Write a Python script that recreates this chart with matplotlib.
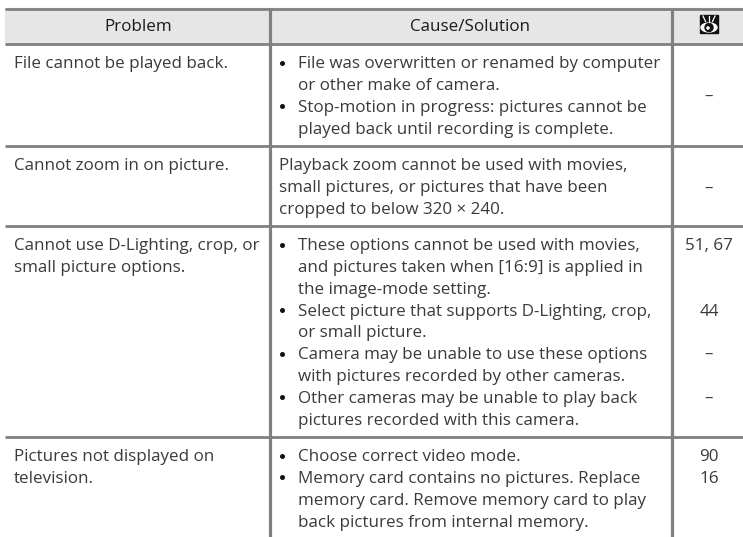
#!/usr/bin/env python3
"""
Troubleshooting table: Problem / Cause-Solution / page reference
"""
import matplotlib
matplotlib.use('Agg')
import matplotlib.pyplot as plt
from matplotlib.patches import Rectangle, Ellipse, Circle

W, H = 743, 537

headers = ['Problem', 'Cause/Solution']

problems = [
    ['File cannot be played back.'],
    ['Cannot zoom in on picture.'],
    ['Cannot use D-Lighting, crop, or', 'small picture options.'],
    ['Pictures not displayed on', 'television.'],
]

# (bullet?, text, page ref) per line of the middle column
row1 = [(True, 'File was overwritten or renamed by computer', ''),
        (False, 'or other make of camera.', ''),
        (True, 'Stop-motion in progress: pictures cannot be', ''),
        (False, 'played back until recording is complete.', '')]
row2 = [(False, 'Playback zoom cannot be used with movies,', ''),
        (False, 'small pictures, or pictures that have been', ''),
        (False, 'cropped to below 320 \u00d7 240.', '')]
row3 = [(True, 'These options cannot be used with movies,', '51, 67'),
        (False, 'and pictures taken when [16:9] is applied in', ''),
        (False, 'the image-mode setting.', ''),
        (True, 'Select picture that supports D-Lighting, crop,', '44'),
        (False, 'or small picture.', ''),
        (True, 'Camera may be unable to use these options', '\u2013'),
        (False, 'with pictures recorded by other cameras.', ''),
        (True, 'Other cameras may be unable to play back', '\u2013'),
        (False, 'pictures recorded with this camera.', '')]
row4 = [(True, 'Choose correct video mode.', '90'),
        (True, 'Memory card contains no pictures. Replace', '16'),
        (False, 'memory card. Remove memory card to play', ''),
        (False, 'back pictures from internal memory.', '')]
rows = [row1, row2, row3, row4]

row_tops = [43.5, 146, 225.5, 436.5]     # y of rule above each row
row_refs_mid = ['\u2013', '\u2013', None, None]  # centred dash for single-ref rows

plt.rcParams['font.family'] = ['Open Sans', 'DejaVu Sans']
FS = 12.25
TEXT = '#3a3a3a'
GREY = '#808080'
LH = 21.85

fig = plt.figure(figsize=(W / 100, H / 100), dpi=100, facecolor='white')
ax = fig.add_axes([0, 0, 1, 1])
ax.set_xlim(0, W)
ax.set_ylim(H, 0)
ax.axis('off')

# header band and rules
ax.add_patch(Rectangle((5, 8), W - 5, 35, color='#e6e6e6', zorder=0))
for y in [8.5] + row_tops:
    ax.plot([5, W], [y, y], color=GREY, lw=2.0, solid_capstyle='butt')
for x in [270, 672]:
    ax.plot([x, x], [7.5, H], color=GREY, lw=2.3, solid_capstyle='butt')

ax.text(138, 31, headers[0], ha='center', va='baseline', fontsize=FS, color='#1a1a1a')
ax.text(470, 31, headers[1], ha='center', va='baseline', fontsize=FS, color='#1a1a1a')

# eye icon in the header
ax.add_patch(Rectangle((700, 15), 18, 18, color='#111111'))
ax.add_patch(Ellipse((709, 27.5), 16, 9, color='white'))
ax.add_patch(Circle((709, 27.5), 4, color='#111111'))
ax.add_patch(Circle((708, 28), 1.1, color='white'))
for dx in [-5, 0, 5]:
    ax.plot([709 + dx * 0.7, 709 + dx * 1.2], [21.5, 16], color='white', lw=0.9)

for top, prob, row, mid in zip(row_tops, problems, rows, row_refs_mid):
    y0 = top + 24.5
    for i, line in enumerate(prob):
        ax.text(14, y0 + i * LH, line, va='baseline', fontsize=FS, color=TEXT)
    has_bullets = any(r[0] for r in row)
    for i, (bullet, line, ref) in enumerate(row):
        y = y0 + i * LH
        if bullet:
            ax.plot([282], [y - 5.5], 'o', color='#111111', ms=3.6, mew=0)
        ax.text(298 if has_bullets else 279, y, line, va='baseline', fontsize=FS, color=TEXT)
        if ref:
            ax.text(709, y, ref, va='baseline', ha='center', fontsize=FS, color=TEXT)
    if mid:
        ax.text(709, y0 + (len(row) - 1) * LH / 2, mid, va='baseline', ha='center', fontsize=FS, color=TEXT)

fig.savefig('out.png', dpi=100)
